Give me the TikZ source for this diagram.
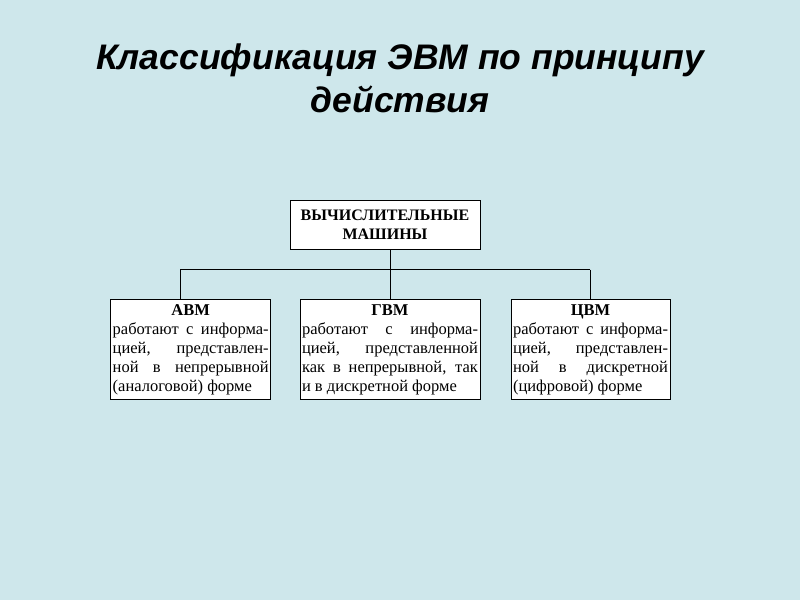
\documentclass[tikz,border=0pt]{standalone}
\usepackage{fontspec}
\setmainfont{Liberation Serif}
\newfontfamily\titlefont{Liberation Sans}
\usepackage{tikz}
\definecolor{slidebg}{RGB}{206,231,235}

\begin{document}
\begin{tikzpicture}[
    x=1pt, y=-1pt,
    box/.style={
        draw=black,
        fill=white,
        line width=1pt,
        inner xsep=2pt,
        inner ysep=2pt,
        font=\fontsize{16.5}{19}\selectfont,
        align=justify
    },
    link/.style={
        line width=1pt,
        black
    }
]

% ---------------- FONS ----------------

\fill[slidebg] (0,0) rectangle (800,600);

% ---------------- TITOL ----------------

\node[
    align=center,
    font=\titlefont\bfseries\itshape\fontsize{35.5}{43}\selectfont
] (title) at (400,78)
    {Классификация ЭВМ по принципу\\действия};

% ---------------- CAIXES ----------------

% arrel
\node[
    box,
    align=center,
    text width=186pt,
    minimum height=49pt,
    font=\bfseries\fontsize{16}{18.5}\selectfont
] (evm) at (385,224.5)
    {ВЫЧИСЛИТЕЛЬНЫЕ\\МАШИНЫ};

% АВМ
\node[
    box,
    anchor=north,
    text width=156pt,
    minimum height=100pt
] (avm) at (190.7,299.3)
    {{\centering\bfseries АВМ\par}
    работают с информа-\linebreak
    цией, представлен-\linebreak
    ной в непрерывной\linebreak
    (аналоговой) форме};

% ГВМ
\node[
    box,
    anchor=north,
    text width=176pt,
    minimum height=100pt
] (gvm) at (390,299.3)
    {{\centering\bfseries ГВМ\par}
    работают с информа-\linebreak
    цией, представленной\linebreak
    как в непрерывной, так\linebreak
    и в дискретной форме};

% ЦВМ
\node[
    box,
    anchor=north,
    text width=155pt,
    minimum height=100pt
] (cvm) at (590.5,299.3)
    {{\centering\bfseries ЦВМ\par}
    работают с информа-\linebreak
    цией, представлен-\linebreak
    ной в дискретной\linebreak
    (цифровой) форме};

% ---------------- ENLLAÇOS ----------------

\coordinate (busA) at (180.3,269.5);
\coordinate (busB) at (390.7,269.5);
\coordinate (busC) at (590.3,269.5);

\draw[link] (evm.south -| busB) -- (busB);
\draw[link] (busA) -- (busC);
\draw[link] (busA) -- (avm.north -| busA);
\draw[link] (busB) -- (gvm.north -| busB);
\draw[link] (busC) -- (cvm.north -| busC);

\end{tikzpicture}
\end{document}
